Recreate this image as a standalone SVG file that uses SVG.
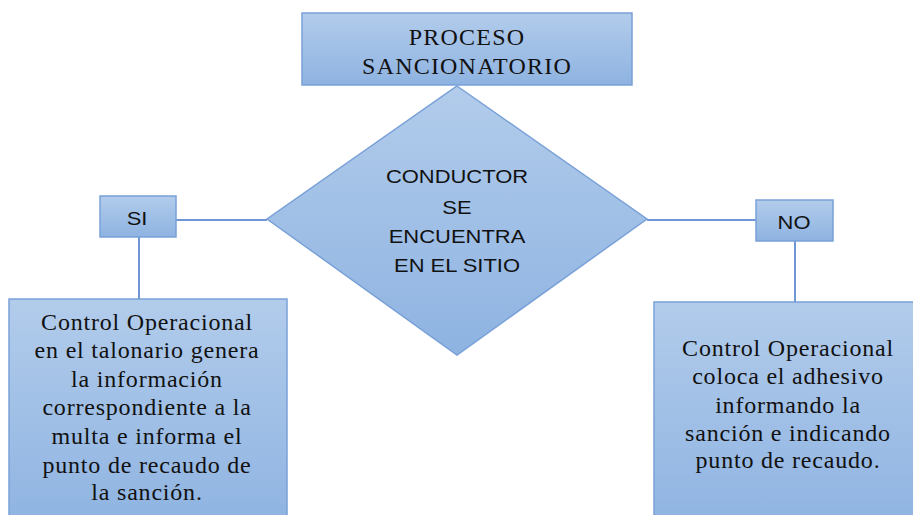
<svg xmlns="http://www.w3.org/2000/svg" width="913" height="515" viewBox="0 0 913 515">
<defs>
<linearGradient id="g" x1="0" y1="0" x2="0" y2="1">
<stop offset="0" stop-color="#b2cceb"/>
<stop offset="1" stop-color="#8eb3e1"/>
</linearGradient>
<style>
.box{fill:url(#g);stroke:#79a1d8;stroke-width:1.5}
.conn{stroke:#6f97d6;stroke-width:2;fill:none}
.serif{font-family:"Liberation Serif","Times New Roman",serif;font-size:24px;fill:#111111;text-anchor:middle;letter-spacing:0.8px}
.sans{font-family:"Liberation Sans",Arial,sans-serif;font-size:18px;fill:#111111;text-anchor:middle}
</style>
</defs>
<rect width="913" height="515" fill="#ffffff"/>
<g id="connectors">
<line class="conn" x1="176" y1="220" x2="267" y2="220"/>
<line class="conn" x1="139" y1="237" x2="139" y2="299"/>
<line class="conn" x1="647" y1="220" x2="756" y2="220"/>
<line class="conn" x1="795" y1="241" x2="795" y2="302"/>
</g>
<g id="proceso">
<rect class="box" x="302" y="13" width="330" height="72"/>
<text class="serif" x="467" y="45" style="letter-spacing:1.2px">PROCESO</text>
<text class="serif" x="467" y="74" style="letter-spacing:1.2px">SANCIONATORIO</text>
</g>
<g id="decision">
<polygon class="box" points="457,86 647,219 457,355 267,219"/>
<g transform="translate(457,0) scale(1.22,1)">
<text class="sans" x="0" y="183">CONDUCTOR</text>
<text class="sans" x="0" y="214">SE</text>
<text class="sans" x="0" y="243">ENCUENTRA</text>
<text class="sans" x="0" y="272">EN EL SITIO</text>
</g>
</g>
<g id="si">
<rect class="box" x="100" y="196" width="76" height="41"/>
<text class="sans" transform="translate(137,0) scale(1.22,1)" x="0" y="225">SI</text>
</g>
<g id="no">
<rect class="box" x="756" y="200" width="77" height="41"/>
<text class="sans" transform="translate(794,0) scale(1.22,1)" x="0" y="229">NO</text>
</g>
<g id="control-si">
<rect class="box" x="9" y="299" width="278" height="230"/>
<text class="serif" x="147" y="330">Control Operacional</text>
<text class="serif" x="147" y="358">en el talonario genera</text>
<text class="serif" x="147" y="387">la información</text>
<text class="serif" x="147" y="415">correspondiente a la</text>
<text class="serif" x="147" y="444">multa e informa el</text>
<text class="serif" x="147" y="473">punto de recaudo de</text>
<text class="serif" x="147" y="500">la sanción.</text>
</g>
<g id="control-no">
<rect class="box" x="654" y="302" width="270" height="230"/>
<text class="serif" x="788" y="356">Control Operacional</text>
<text class="serif" x="788" y="384">coloca el adhesivo</text>
<text class="serif" x="788" y="413">informando la</text>
<text class="serif" x="788" y="441">sanción e indicando</text>
<text class="serif" x="788" y="468">punto de recaudo.</text>
</g>
</svg>
